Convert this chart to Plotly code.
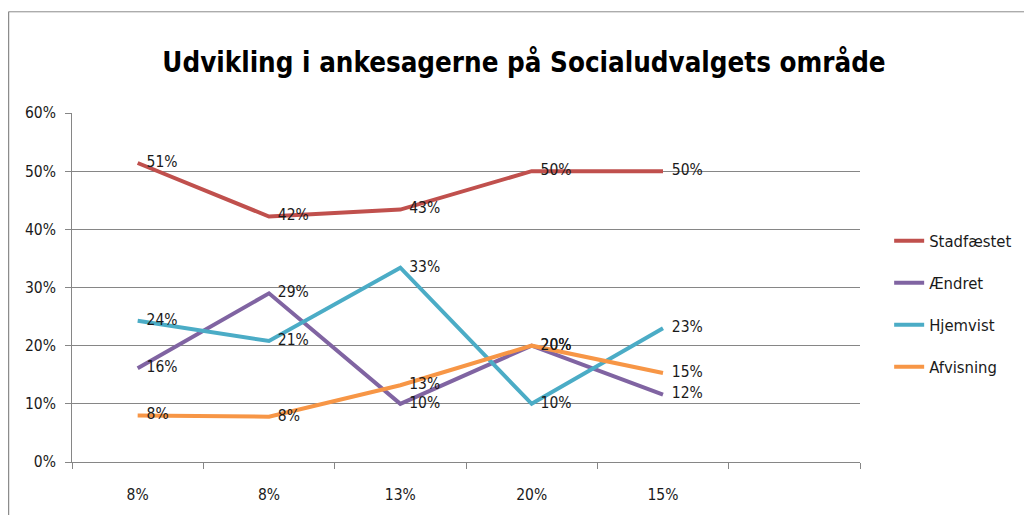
import plotly.graph_objects as go

# -----------------------------
# Data
# -----------------------------
x_labels = ["8%", "8%", "13%", "20%", "15%", ""]
x_pos = [0, 1, 2, 3, 4]

stadfaestet = [0.514, 0.422, 0.434, 0.500, 0.500]
aendret = [0.161, 0.290, 0.100, 0.200, 0.116]
hjemvist = [0.243, 0.208, 0.334, 0.100, 0.230]
afvisning = [0.080, 0.078, 0.132, 0.200, 0.153]

series = [
    ("Stadfæstet", stadfaestet, "#C0504D"),
    ("Ændret", aendret, "#8064A2"),
    ("Hjemvist", hjemvist, "#4BACC6"),
    ("Afvisning", afvisning, "#F79646"),
]

FONT = "DejaVu Sans Condensed, Liberation Sans, sans-serif"

fig = go.Figure()
for name, vals, color in series:
    fig.add_trace(go.Scatter(
        x=x_pos, y=vals, name=name, mode="lines+text",
        line=dict(color=color, width=4),
        texttemplate="  %{y:.0%}", textposition="middle right",
        textfont=dict(size=15.5, color="#1a1a1a", family=FONT),
        legendgroup=name, cliponaxis=False,
    ))

# page has an 8px body margin, so plot area offsets are shifted by 8px
fig.update_layout(
    width=1032, height=515,
    paper_bgcolor="white", plot_bgcolor="white",
    margin=dict(l=64, r=180, t=105, b=61),
    font=dict(family=FONT, size=15.5, color="#1a1a1a"),
    title=dict(
        text="<b>Udvikling i ankesagerne på Socialudvalgets område</b>",
        x=0.5, xanchor="center", y=0.895, yanchor="middle",
        font=dict(size=27.5, color="black", family=FONT),
    ),
    legend=dict(
        x=1.037, xanchor="left", y=0.683, yanchor="top",
        font=dict(size=16.5), tracegroupgap=17.5, bgcolor="rgba(0,0,0,0)",
    ),
    showlegend=True,
)

fig.update_xaxes(
    range=[-0.5, 5.5], tickmode="array", tickvals=list(range(6)), ticktext=x_labels,
    showgrid=False, zeroline=False, showline=True, linecolor="#868686", linewidth=1,
    ticks="", ticklabelstandoff=18,
    minor=dict(tick0=-0.5, dtick=1, ticks="outside", ticklen=6, tickcolor="#868686", showgrid=False),
    tickfont=dict(size=15.5),
)
fig.update_yaxes(
    range=[0, 0.6], dtick=0.1, tickformat=".0%",
    showgrid=True, gridcolor="#868686", gridwidth=1, zeroline=False,
    showline=True, linecolor="#868686", linewidth=1,
    ticks="outside", ticklen=6, tickcolor="#868686", ticklabelstandoff=6,
    tickfont=dict(size=15.5),
)

# chart frame (top and left border of the original Excel chart area)
fig.add_shape(type="line", xref="paper", yref="paper", x0=-0.0806, x1=1.23, y0=1.29, y1=1.29,
              line=dict(color="#8c8c8c", width=1))
fig.add_shape(type="line", xref="paper", yref="paper", x0=-0.0806, x1=-0.0806, y0=1.29, y1=-0.18,
              line=dict(color="#8c8c8c", width=1.5))

fig.write_html("out.html")
